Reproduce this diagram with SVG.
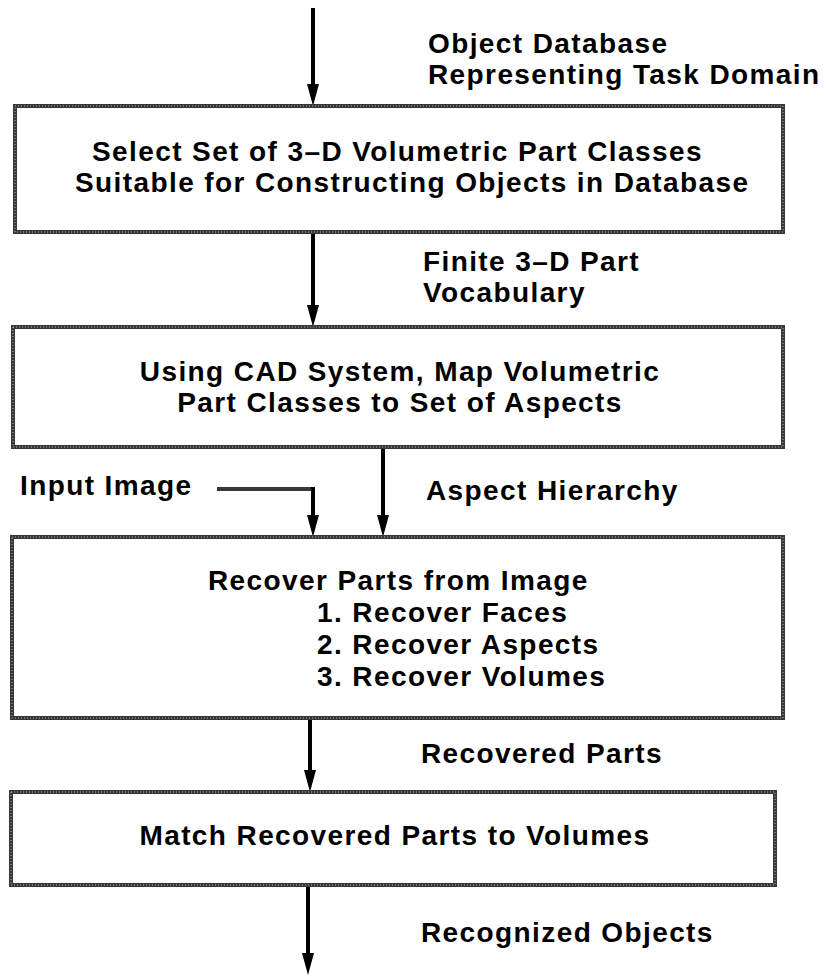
<svg xmlns="http://www.w3.org/2000/svg" width="827" height="977" viewBox="0 0 827 977">
<style>
.box{fill:#fff;stroke:#383838;stroke-width:4}
.tex{fill:none;stroke:#fff;stroke-width:1;stroke-dasharray:1 2;opacity:0.6}
.t{font-family:"Liberation Sans",Arial,sans-serif;font-weight:bold;font-size:28px;letter-spacing:1.4px;fill:#000}
.c{text-anchor:middle}
.ln{fill:none;stroke:#000;stroke-width:4}
.gl{fill:none;stroke:#383838;stroke-width:4}
</style>
<defs>
<path id="ah" d="M-6,-22 L6,-22 L0,0 Z" fill="#000"/>
</defs>
<g id="connectors">
<line class="ln" x1="313" y1="8" x2="313" y2="86"/><use href="#ah" x="313" y="106"/>
<line class="ln" x1="313" y1="232" x2="313" y2="307"/><use href="#ah" x="313" y="327"/>
<line class="ln" x1="383" y1="447" x2="383" y2="517"/><use href="#ah" x="383" y="537"/>
<polyline class="gl" points="217,489 313,489"/>
<line class="ln" x1="313" y1="487" x2="313" y2="517"/><use href="#ah" x="313" y="537"/>
<line class="ln" x1="310" y1="718" x2="310" y2="772"/><use href="#ah" x="310" y="792"/>
<line class="ln" x1="308" y1="885" x2="308" y2="955"/><use href="#ah" x="308" y="975"/>
<text class="t" x="428" y="53">Object Database</text>
<text class="t" x="428" y="84">Representing Task Domain</text>
<text class="t" x="423" y="271">Finite 3–D Part</text>
<text class="t" x="423" y="302">Vocabulary</text>
<text class="t" x="20" y="495">Input Image</text>
<text class="t" x="426" y="500">Aspect Hierarchy</text>
<text class="t" x="421" y="763">Recovered Parts</text>
<text class="t" x="421" y="942">Recognized Objects</text>
</g>
<g id="n1">
<rect class="box" x="15" y="106" width="768" height="126"/>
<rect class="tex" x="15" y="106" width="768" height="126"/>
<text class="t" x="92" y="161">Select Set of 3–D Volumetric Part Classes</text>
<text class="t" x="75" y="192">Suitable for Constructing Objects in Database</text>
</g>
<g id="n2">
<rect class="box" x="13" y="327" width="770" height="120"/>
<rect class="tex" x="13" y="327" width="770" height="120"/>
<text class="t c" x="400" y="381">Using CAD System, Map Volumetric</text>
<text class="t c" x="400" y="412">Part Classes to Set of Aspects</text>
</g>
<g id="n3">
<rect class="box" x="12" y="537" width="771" height="181"/>
<rect class="tex" x="12" y="537" width="771" height="181"/>
<text class="t" x="208" y="590">Recover Parts from Image</text>
<text class="t" x="317" y="622">1. Recover Faces</text>
<text class="t" x="317" y="654">2. Recover Aspects</text>
<text class="t" x="317" y="686">3. Recover Volumes</text>
</g>
<g id="n4">
<rect class="box" x="11" y="792" width="764" height="93"/>
<rect class="tex" x="11" y="792" width="764" height="93"/>
<text class="t c" x="395" y="845">Match Recovered Parts to Volumes</text>
</g>
</svg>
